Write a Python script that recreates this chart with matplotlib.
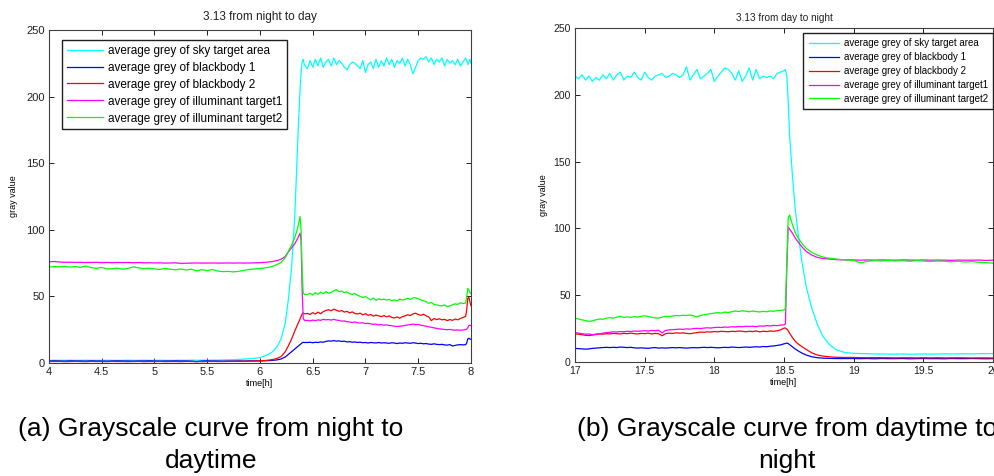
import matplotlib
matplotlib.use('Agg')
import matplotlib.pyplot as plt
import numpy as np

plt.rcParams['font.family'] = ['Liberation Sans', 'DejaVu Sans']

# ---- panel (a): 3.13 from night to day ----
t_a = np.concatenate([
    np.linspace(4.0, 5.95, 40),
    [6.00, 6.04, 6.08, 6.12, 6.16, 6.20, 6.24, 6.27, 6.30, 6.33, 6.36, 6.38, 6.39, 6.40, 6.41, 6.42],
    np.linspace(6.45, 7.95, 61),
    [7.96, 7.97, 7.98, 7.99, 8.00],
])

sky_a = [2.0, 2.1, 2.0, 2.0, 2.1, 2.0, 2.0, 2.1, 2.0, 2.0,
         2.0, 2.1, 2.0, 2.0, 2.0, 2.1, 2.0, 2.0, 2.1, 2.0,
         2.0, 2.1, 2.0, 2.0, 2.0, 2.1, 2.0, 2.2, 2.0, 2.1,
         2.1, 2.2, 2.2, 2.3, 2.4, 2.5, 2.7, 2.9, 3.2, 3.6,
         4.0, 5.2, 6.5, 8.5, 12.0, 18.0, 30.0, 48.0, 72.0, 110.0, 170.0, 205.0, 218.0, 226.0, 228.0, 224.0,
         221, 227, 222, 228, 223, 229, 222, 226, 228, 223,
         229, 224, 227, 225, 222, 220, 224, 226, 225, 223,
         221, 227, 218, 224, 226, 221, 228, 222, 227, 223,
         229, 224, 228, 222, 227, 225, 229, 223, 228, 224,
         217, 222, 227, 229, 228, 230, 226, 229, 224, 228,
         226, 229, 223, 228, 225, 227, 224, 228, 223, 226,
         229, 227, 224, 226, 228, 225]

bb1_a = [1.5, 1.6, 1.5, 1.4, 1.6, 1.5, 1.5, 1.4, 1.6, 1.5,
         1.5, 1.4, 1.5, 1.6, 1.5, 1.5, 1.4, 1.5, 1.5, 1.6,
         1.5, 1.4, 1.5, 1.5, 1.6, 1.5, 1.5, 1.4, 1.0, 1.5,
         1.6, 1.5, 1.5, 1.4, 1.5, 1.5, 1.6, 1.5, 1.6, 1.6,
         1.6, 1.7, 1.8, 2.0, 2.3, 3.0, 4.5, 6.5, 8.5, 10.5, 12.5, 13.8, 14.5, 15.2, 15.5, 15.4,
         15.4, 15.6, 15.2, 15.6, 15.4, 15.8, 15.6, 16.2, 16.6, 16.4,
         16.8, 16.4, 16.6, 16.2, 16.4, 15.8, 16.0, 15.6, 15.8, 15.4,
         15.6, 15.2, 15.4, 15.0, 15.4, 15.2, 15.0, 15.4, 15.0, 15.2,
         15.0, 14.8, 15.2, 15.0, 14.6, 15.0, 14.8, 15.2, 15.0, 14.8,
         15.2, 15.0, 14.6, 14.8, 14.4, 14.6, 14.2, 14.0, 14.4, 14.0,
         13.8, 14.0, 13.6, 13.4, 13.8, 12.8, 13.2, 13.6, 13.8, 13.6,
         13.8, 15.0, 18.0, 18.6, 18.0, 17.8]

bb2_a = [1.2, 1.1, 1.2, 1.0, 1.1, 1.2, 1.1, 1.0, 1.2, 1.1,
         1.1, 1.0, 1.2, 1.1, 1.1, 1.0, 1.1, 1.2, 1.0, 1.1,
         1.1, 1.2, 1.0, 1.1, 1.1, 1.0, 1.2, 1.1, 1.1, 1.0,
         1.1, 1.2, 1.1, 1.1, 1.2, 1.2, 1.3, 1.3, 1.4, 1.5,
         1.6, 1.8, 2.1, 2.6, 3.4, 4.8, 8.5, 13.0, 18.0, 24.0, 29.5, 33.0, 35.0, 36.8, 37.5, 37.0,
         37.2, 36.4, 37.8, 36.8, 38.2, 37.0, 38.6, 39.4, 40.0, 39.2,
         40.4, 39.6, 38.8, 39.4, 38.2, 38.8, 37.6, 38.4, 37.2, 36.8,
         37.4, 36.2, 37.0, 35.8, 36.4, 35.2, 36.0, 35.4, 34.8, 35.6,
         34.6, 35.4, 34.2, 33.8, 34.6, 33.6, 34.8, 35.4, 36.2, 35.6,
         36.8, 37.4, 36.4, 35.8, 36.6, 35.4, 34.6, 31.8, 33.4, 32.6,
         33.2, 32.4, 32.8, 31.8, 32.6, 32.0, 33.0, 32.4, 33.4, 34.2,
         35.0, 40.0, 48.5, 49.5, 46.0, 43.0]

ill1_a = [76.0, 76.2, 75.8, 75.6, 75.7, 75.5, 75.6, 75.4, 75.5, 75.6,
          75.4, 75.5, 75.3, 75.5, 75.4, 75.5, 75.3, 75.4, 75.2, 75.3,
          75.1, 75.2, 75.0, 75.1, 75.2, 74.8, 74.9, 75.0, 75.1, 75.0,
          75.0, 75.1, 75.0, 75.0, 75.1, 75.0, 75.1, 75.0, 75.1, 75.2,
          75.3, 75.5, 75.8, 76.2, 76.9, 77.8, 80.0, 83.5, 86.5, 89.5, 94.0, 97.5, 92.0, 55.0, 34.0, 32.0,
          32.0, 31.6, 32.2, 31.8, 32.4, 32.0, 32.8, 32.4, 32.6, 32.2,
          32.8, 32.2, 32.0, 31.4, 31.6, 31.0, 30.8, 30.4, 30.8, 30.2,
          30.0, 30.2, 29.6, 29.8, 29.4, 29.0, 29.2, 28.6, 28.8, 28.4,
          28.6, 28.2, 28.0, 27.6, 27.4, 27.6, 27.8, 28.2, 28.6, 28.8,
          29.2, 28.8, 29.0, 28.4, 28.0, 27.6, 27.2, 26.8, 26.4, 26.0,
          25.6, 25.4, 25.2, 25.0, 25.2, 24.8, 24.6, 24.8, 24.6, 24.8,
          25.0, 25.4, 26.5, 28.0, 28.4, 28.0]

ill2_a = [72.0, 72.4, 72.2, 72.6, 72.0, 72.4, 71.8, 72.8, 71.6, 71.0,
          71.8, 70.6, 70.8, 71.2, 70.4, 71.0, 72.2, 71.4, 70.8, 71.2,
          70.6, 70.2, 71.0, 70.4, 70.0, 70.6, 69.8, 70.4, 69.2, 70.0,
          69.4, 70.2, 69.0, 68.6, 68.8, 68.4, 68.8, 69.6, 70.2, 70.6,
          71.0, 71.3, 71.8, 72.6, 73.8, 75.5, 79.0, 84.0, 88.5, 94.0, 102.0, 110.0, 100.0, 68.0, 53.0, 51.5,
          51.5, 52.4, 51.0, 52.8, 51.6, 53.2, 52.0, 53.6, 52.4, 53.0,
          54.2, 55.0, 53.6, 54.0, 52.8, 53.4, 52.0, 51.4, 52.2, 50.8,
          50.0, 49.2, 49.8, 48.6, 47.4, 48.8, 47.0, 48.2, 47.6, 48.0,
          47.2, 47.8, 46.8, 47.4, 46.6, 48.0, 47.2, 47.8, 48.6, 47.8,
          48.8, 49.0, 48.2, 47.4, 46.8, 46.0, 44.8, 45.4, 44.0, 43.6,
          43.2, 42.8, 43.6, 42.4, 42.8, 43.8, 44.4, 44.0, 45.2, 44.6,
          45.0, 50.0, 56.0, 55.0, 53.0, 52.0]

# ---- panel (b): 3.13 from day to night ----
t_b = np.concatenate([
    np.linspace(17.0, 18.5, 61),
    [18.51, 18.52, 18.53, 18.54, 18.56, 18.58, 18.60, 18.63, 18.66, 18.70, 18.74, 18.78, 18.83, 18.88, 18.94],
    np.linspace(19.0, 20.0, 21),
])

sky_b = [214, 212, 215, 211, 214, 210, 213, 211, 215, 212,
         216, 211, 215, 217, 211, 214, 213, 217, 213, 211,
         217, 213, 211, 214, 215, 216, 213, 214, 216, 215,
         213, 215, 221, 211, 215, 219, 212, 214, 216, 219,
         210, 214, 217, 220, 219, 216, 211, 218, 210, 214,
         220, 211, 219, 212, 214, 213, 214, 212, 216, 217,
         218,
         219, 214, 195, 170, 140, 115, 97, 74, 56, 40, 28, 19, 12.5, 9.0, 7.0,
         6.5, 6.3, 6.2, 6.0, 6.0, 5.9, 5.9, 6.0, 5.8, 5.9, 6.0, 5.9, 6.0, 6.1, 6.0, 6.1, 6.2, 6.1, 6.2, 6.3, 6.3]

bb1_b = [10.2, 10.0, 9.8, 9.6, 9.8, 10.2, 10.4, 10.6, 10.8, 11.0,
         10.8, 11.0, 10.8, 11.2, 11.0, 10.8, 11.0, 10.6, 10.4, 10.6,
         10.4, 10.2, 10.6, 10.8, 10.4, 10.6, 10.4, 10.6, 10.8, 10.6,
         10.8, 10.6, 10.4, 10.6, 10.8, 10.6, 10.8, 11.0, 10.8, 11.0,
         10.8, 10.6, 10.8, 11.0, 10.8, 11.2, 11.0, 10.8, 11.0, 11.2,
         11.0, 11.2, 11.4, 11.2, 11.6, 11.4, 11.8, 12.0, 12.4, 12.8,
         13.6,
         13.8, 14.2, 13.8, 13.0, 11.4, 9.8, 8.4, 6.6, 5.2, 3.9, 3.2, 2.9, 2.7, 2.6, 2.6,
         2.6, 2.5, 2.6, 2.4, 2.6, 2.5, 2.5, 2.6, 2.4, 2.5, 2.6, 2.5, 2.5, 2.4, 2.6, 2.5, 2.5, 2.6, 2.5, 2.4, 2.5]

bb2_b = [21.0, 20.8, 20.4, 20.0, 19.8, 20.2, 20.6, 21.0, 20.8, 21.2,
         21.0, 21.4, 21.2, 21.0, 21.4, 21.2, 21.6, 21.2, 21.0, 21.4,
         21.2, 21.6, 21.0, 21.4, 21.2, 19.6, 21.2, 21.6, 21.4, 21.8,
         21.6, 21.8, 21.4, 21.2, 21.6, 22.0, 22.4, 22.2, 22.6, 22.4,
         22.8, 22.6, 23.0, 22.8, 22.6, 23.0, 22.8, 23.2, 23.0, 22.6,
         23.0, 22.8, 23.2, 22.6, 23.0, 22.8, 23.2, 23.0, 23.4, 24.0,
         25.4,
         25.4, 24.6, 23.4, 21.6, 18.4, 15.6, 13.6, 11.4, 9.4, 6.8, 5.2, 4.4, 3.8, 3.5, 3.4,
         3.4, 3.3, 3.2, 3.3, 3.2, 3.2, 3.1, 3.2, 3.2, 3.1, 3.2, 3.1, 3.2, 3.1, 3.1, 3.2, 3.1, 3.0, 3.1, 3.1, 3.0]

ill1_b = [22.0, 21.6, 21.2, 20.8, 21.0, 20.4, 20.8, 21.2, 21.6, 22.0,
          22.2, 22.6, 22.4, 22.8, 22.6, 23.0, 22.8, 23.2, 23.0, 23.2,
          23.4, 23.2, 23.6, 23.4, 23.8, 21.8, 23.6, 24.0, 24.2, 24.4,
          24.6, 24.4, 24.8, 24.6, 25.0, 25.2, 25.0, 25.4, 25.6, 25.4,
          25.8, 26.0, 25.8, 26.2, 26.0, 26.4, 26.2, 26.6, 26.4, 26.8,
          26.6, 26.8, 26.4, 27.0, 26.8, 27.2, 27.0, 27.4, 27.2, 27.6,
          27.8,
          28.5, 70.0, 101.0, 99.5, 96.5, 93.0, 90.0, 86.0, 82.8, 80.0, 78.3, 77.4, 77.0, 76.6, 76.4,
          76.4, 76.2, 76.4, 76.2, 76.4, 76.3, 76.2, 76.4, 76.3, 76.2, 76.4, 76.2, 76.3, 76.2, 76.1, 76.3, 76.2, 76.2, 76.3, 76.0, 76.2]

ill2_b = [32.6, 32.2, 31.6, 31.0, 30.4, 30.8, 31.6, 32.2, 32.0, 32.8,
          33.2, 32.8, 33.6, 34.2, 33.4, 33.8, 33.4, 34.0, 33.6, 34.2,
          34.6, 34.0, 33.6, 33.0, 32.8, 33.6, 34.2, 34.0, 34.4, 34.8,
          34.6, 35.0, 34.8, 35.2, 34.6, 33.8, 34.8, 35.4, 35.8, 36.2,
          36.6, 37.0, 36.6, 37.4, 37.0, 37.6, 38.2, 37.8, 38.4, 38.0,
          37.6, 38.2, 37.8, 37.4, 38.0, 37.6, 38.2, 38.0, 38.4, 38.6,
          39.0,
          40.0, 75.0, 108.0, 110.0, 103.0, 97.0, 93.0, 88.5, 85.0, 82.0, 80.0, 78.5, 77.6, 77.0, 76.4,
          76.0, 74.2, 75.4, 75.8, 75.6, 76.0, 75.6, 75.8, 75.4, 75.8, 75.6, 75.2, 75.6, 75.4, 75.0, 75.4, 74.8, 75.2, 74.6, 74.4, 74.0]

labels = ['average grey of sky target area', 'average grey of blackbody 1',
          'average grey of blackbody 2', 'average grey of illuminant target1',
          'average grey of illuminant target2']
colors = ['#00FFFF', '#0000FF', '#FF0000', '#FF00FF', '#00FF00']

fig = plt.figure(figsize=(9.95, 4.76), dpi=100)
ax1 = fig.add_axes([0.0492, 0.2374, 0.4241, 0.6996])
ax2 = fig.add_axes([0.5779, 0.2395, 0.4201, 0.7017])

panels = [
    (ax1, t_a, [sky_a, bb1_a, bb2_a, ill1_a, ill2_a], (4, 8), np.arange(4, 8.01, 0.5), 8),
    (ax2, t_b, [sky_b, bb1_b, bb2_b, ill1_b, ill2_b], (17, 20), np.arange(17, 20.01, 0.5), 7.5),
]

for ax, t, series, xlim, xt, tfs in panels:
    for y, c, lab in zip(series, colors, labels):
        ax.plot(t, y, color=c, lw=0.9, label=lab)
    ax.set_xlim(*xlim)
    ax.set_ylim(0, 250)
    ax.set_xticks(xt)
    ax.set_xticklabels(['%g' % v for v in xt])
    ax.set_yticks([0, 50, 100, 150, 200, 250])
    ax.tick_params(direction='in', top=True, right=True, length=3.5, width=0.7,
                   labelsize=tfs, colors='#202020', pad=3)
    for s in ax.spines.values():
        s.set_color('#404040')
        s.set_linewidth(0.8)

ax1.set_title('3.13 from night to day', fontsize=8.5, color='#202020', pad=7)
ax2.set_title('3.13 from day to night', fontsize=7.2, color='#202020', pad=5)
ax1.set_xlabel('time[h]', fontsize=6.5, labelpad=1)
ax2.set_xlabel('time[h]', fontsize=6.5, labelpad=1)
ax1.set_ylabel('gray value', fontsize=6.5, labelpad=6)
ax2.set_ylabel('gray value', fontsize=6.5, labelpad=4)

ax1.legend(loc='upper left', bbox_to_anchor=(0.031, 0.970), borderaxespad=0,
           fontsize=8.5, fancybox=False, edgecolor='#202020', framealpha=1,
           handlelength=3.1, labelspacing=0.42, borderpad=0.4, handletextpad=0.4)
ax2.legend(loc='upper right', bbox_to_anchor=(1.0, 0.985), borderaxespad=0,
           fontsize=7, fancybox=False, edgecolor='#202020', framealpha=1,
           handlelength=3.1, labelspacing=0.4, borderpad=0.55, handletextpad=0.5)

fig.text(211 / 995, 1 - 445 / 476, '(a) Grayscale curve from night to\ndaytime',
         ha='center', va='center', multialignment='center', fontsize=19, linespacing=1.45)
fig.text(787 / 995, 1 - 445 / 476, '(b) Grayscale curve from daytime to\nnight',
         ha='center', va='center', multialignment='center', fontsize=19, linespacing=1.45)

fig.savefig('out.png', dpi=100)
